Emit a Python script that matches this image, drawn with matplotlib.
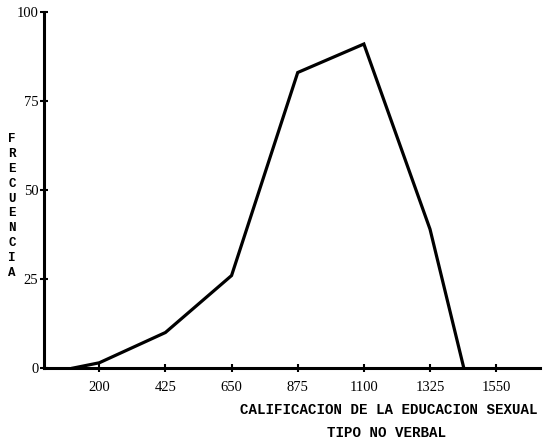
import matplotlib
matplotlib.use('Agg')
import matplotlib.pyplot as plt

# ---------------------------------------------------------------------------
# datos
# ---------------------------------------------------------------------------
calificacion = [110, 200, 425, 650, 875, 1100, 1325, 1440]
frecuencia = [0, 1.5, 10, 26, 83, 91, 39, 0]

x_ticks = [200, 425, 650, 875, 1100, 1325, 1550]
y_ticks = [0, 25, 50, 75, 100]

y_label = 'FRECUENCIA'
x_label_1 = 'CALIFICACION DE LA EDUCACION SEXUAL'
x_label_2 = 'TIPO NO VERBAL'

MONO = ['Liberation Mono', 'DejaVu Sans Mono']
SERIF = ['Liberation Serif', 'DejaVu Serif']

fig = plt.figure(figsize=(5.43, 4.43), dpi=100)
ax = fig.add_axes([0.081, 0.169, 0.914, 0.804])

ax.plot(calificacion, frecuencia, color='black', lw=2.3, solid_joinstyle='miter')

ax.set_xlim(12, 1700)
ax.set_ylim(0, 100)

for s in ('top', 'right'):
    ax.spines[s].set_visible(False)
for s in ('left', 'bottom'):
    ax.spines[s].set_linewidth(2.2)

ax.set_xticks(x_ticks)
ax.set_yticks(y_ticks)
ax.tick_params(axis='both', direction='inout', length=6, width=1.5,
               labelsize=10.5)
ax.tick_params(axis='x', pad=6)
ax.tick_params(axis='y', pad=1)
for lab in ax.get_xticklabels() + ax.get_yticklabels():
    lab.set_family(SERIF)

# etiqueta vertical letra por letra
fig.text(0.022, 0.535, '\n'.join(y_label), family=MONO, fontweight='bold',
         fontsize=9, ha='center', va='center', linespacing=1.33)

fig.text(0.716, 0.075, x_label_1, family=MONO, fontweight='bold',
         fontsize=10.2, ha='center', va='center')
fig.text(0.712, 0.022, x_label_2, family=MONO, fontweight='bold',
         fontsize=10.2, ha='center', va='center')

fig.savefig('out.png', dpi=100, facecolor='white')
